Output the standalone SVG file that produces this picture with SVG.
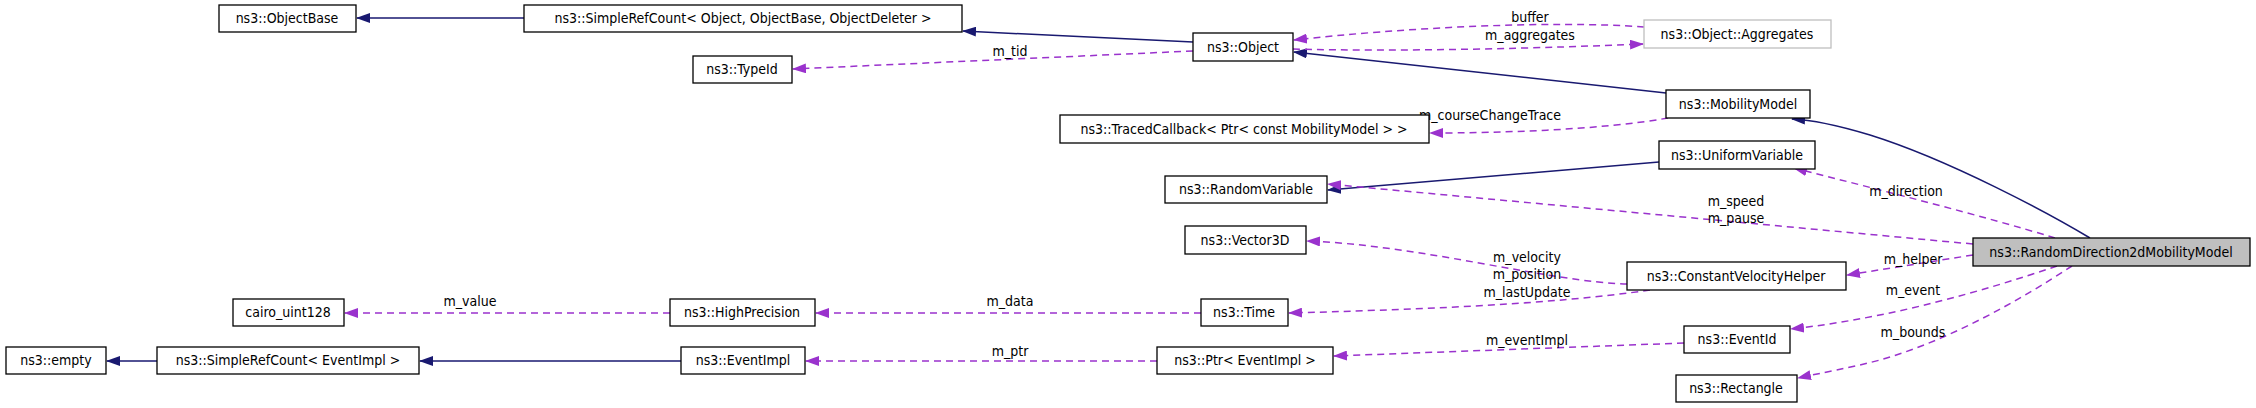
<svg xmlns="http://www.w3.org/2000/svg" width="2256" height="408" viewBox="0 0 2256 408">
<style>
text{font-family:"DejaVu Sans Condensed","DejaVu Sans",sans-serif;font-size:14px;font-stretch:condensed;fill:#000;text-anchor:middle}
.n rect{fill:#fff;stroke:#000;stroke-width:1.3}
.g rect{stroke:#bfbfbf}
.h rect{fill:#bfbfbf}
.s{fill:none;stroke:#191970;stroke-width:1.5}
.d{fill:none;stroke:#9a32cd;stroke-width:1.5;stroke-dasharray:7,5}
</style>
<defs>
<marker id="ms" markerUnits="userSpaceOnUse" markerWidth="14" markerHeight="10" refX="13" refY="5" orient="auto"><path d="M0,0 L14,5 L0,10 z" fill="#191970"/></marker>
<marker id="md" markerUnits="userSpaceOnUse" markerWidth="14" markerHeight="10" refX="13" refY="5" orient="auto"><path d="M0,0 L14,5 L0,10 z" fill="#9a32cd"/></marker>
</defs>
<g id="edges">
<path class="s" marker-end="url(#ms)" d="M524,18 L357,18"/>
<path class="s" marker-end="url(#ms)" d="M1193,42 L963,31"/>
<path class="s" marker-end="url(#ms)" d="M1666,93 L1294,52"/>
<path class="s" marker-end="url(#ms)" d="M2090,238 C2050,214 1950,160 1870,135 C1840,126 1815,120 1792,119"/>
<path class="s" marker-end="url(#ms)" d="M1659,162 L1328,190"/>
<path class="s" marker-end="url(#ms)" d="M681,361 L420,361"/>
<path class="s" marker-end="url(#ms)" d="M157,361 L107,361"/>
<path class="d" marker-end="url(#md)" d="M1293,49 C1400,52 1550,48 1643,44"/>
<path class="d" marker-end="url(#md)" d="M1644,27 C1550,20 1400,28 1294,40"/>
<path class="d" marker-end="url(#md)" d="M1193,51 L793,69"/>
<path class="d" marker-end="url(#md)" d="M1668,118 C1600,130 1500,133 1430,133"/>
<path class="d" marker-end="url(#md)" d="M2055,238 C1980,215 1880,190 1794,168"/>
<path class="d" marker-end="url(#md)" d="M1973,244 L1328,184"/>
<path class="d" marker-end="url(#md)" d="M1973,255 L1847,275"/>
<path class="d" marker-end="url(#md)" d="M2057,266 C1980,292 1890,318 1791,329"/>
<path class="d" marker-end="url(#md)" d="M2072,266 C2020,300 1950,340 1880,360 C1850,368 1820,373 1798,378"/>
<path class="d" marker-end="url(#md)" d="M1627,284 C1550,282 1420,245 1307,241"/>
<path class="d" marker-end="url(#md)" d="M1650,290 C1550,305 1400,310 1289,313"/>
<path class="d" marker-end="url(#md)" d="M1201,313 L816,313"/>
<path class="d" marker-end="url(#md)" d="M670,313 L345,313"/>
<path class="d" marker-end="url(#md)" d="M1684,343 L1334,356"/>
<path class="d" marker-end="url(#md)" d="M1157,361 L806,361"/>
<text x="1530" y="22">buffer</text>
<text x="1530" y="40">m_aggregates</text>
<text x="1010" y="56">m_tid</text>
<text x="1490" y="120">m_courseChangeTrace</text>
<text x="1906" y="196">m_direction</text>
<text x="1736" y="206">m_speed</text>
<text x="1736" y="223">m_pause</text>
<text x="1913" y="264">m_helper</text>
<text x="1913" y="295">m_event</text>
<text x="1913" y="337">m_bounds</text>
<text x="1527" y="262">m_velocity</text>
<text x="1527" y="279">m_position</text>
<text x="1527" y="297">m_lastUpdate</text>
<text x="1010" y="306">m_data</text>
<text x="470" y="306">m_value</text>
<text x="1527" y="345">m_eventImpl</text>
<text x="1010" y="356">m_ptr</text>
</g>
<g id="n_objectbase" class="n"><rect x="219" y="5" width="137" height="27"/><text x="287" y="23">ns3::ObjectBase</text></g>
<g id="n_src_object" class="n"><rect x="524" y="5" width="438" height="27"/><text x="743" y="23">ns3::SimpleRefCount&lt; Object, ObjectBase, ObjectDeleter &gt;</text></g>
<g id="n_typeid" class="n"><rect x="693" y="56" width="99" height="27"/><text x="742" y="74">ns3::TypeId</text></g>
<g id="n_object" class="n"><rect x="1193" y="33" width="100" height="28"/><text x="1243" y="52">ns3::Object</text></g>
<g id="n_aggregates" class="n g"><rect x="1644" y="20" width="187" height="28"/><text x="1737" y="39">ns3::Object::Aggregates</text></g>
<g id="n_mobility" class="n"><rect x="1666" y="90" width="144" height="28"/><text x="1738" y="109">ns3::MobilityModel</text></g>
<g id="n_traced" class="n"><rect x="1060" y="115" width="369" height="28"/><text x="1244" y="134">ns3::TracedCallback&lt; Ptr&lt; const MobilityModel &gt; &gt;</text></g>
<g id="n_uniform" class="n"><rect x="1659" y="141" width="156" height="28"/><text x="1737" y="160">ns3::UniformVariable</text></g>
<g id="n_random" class="n"><rect x="1165" y="176" width="162" height="27"/><text x="1246" y="194">ns3::RandomVariable</text></g>
<g id="n_rd2d" class="n h"><rect x="1973" y="238" width="277" height="28"/><text x="2111" y="257">ns3::RandomDirection2dMobilityModel</text></g>
<g id="n_vector" class="n"><rect x="1185" y="226" width="121" height="28"/><text x="1245" y="245">ns3::Vector3D</text></g>
<g id="n_cvh" class="n"><rect x="1627" y="262" width="219" height="28"/><text x="1736" y="281">ns3::ConstantVelocityHelper</text></g>
<g id="n_cairo" class="n"><rect x="233" y="299" width="111" height="27"/><text x="288" y="317">cairo_uint128</text></g>
<g id="n_hp" class="n"><rect x="670" y="299" width="145" height="27"/><text x="742" y="317">ns3::HighPrecision</text></g>
<g id="n_time" class="n"><rect x="1201" y="299" width="87" height="27"/><text x="1244" y="317">ns3::Time</text></g>
<g id="n_eventid" class="n"><rect x="1684" y="326" width="106" height="27"/><text x="1737" y="344">ns3::EventId</text></g>
<g id="n_empty" class="n"><rect x="6" y="347" width="100" height="27"/><text x="56" y="365">ns3::empty</text></g>
<g id="n_src_event" class="n"><rect x="157" y="347" width="262" height="27"/><text x="288" y="365">ns3::SimpleRefCount&lt; EventImpl &gt;</text></g>
<g id="n_eventimpl" class="n"><rect x="681" y="347" width="124" height="27"/><text x="743" y="365">ns3::EventImpl</text></g>
<g id="n_ptr" class="n"><rect x="1157" y="347" width="176" height="27"/><text x="1245" y="365">ns3::Ptr&lt; EventImpl &gt;</text></g>
<g id="n_rect" class="n"><rect x="1676" y="375" width="121" height="27"/><text x="1736" y="393">ns3::Rectangle</text></g>
</svg>
